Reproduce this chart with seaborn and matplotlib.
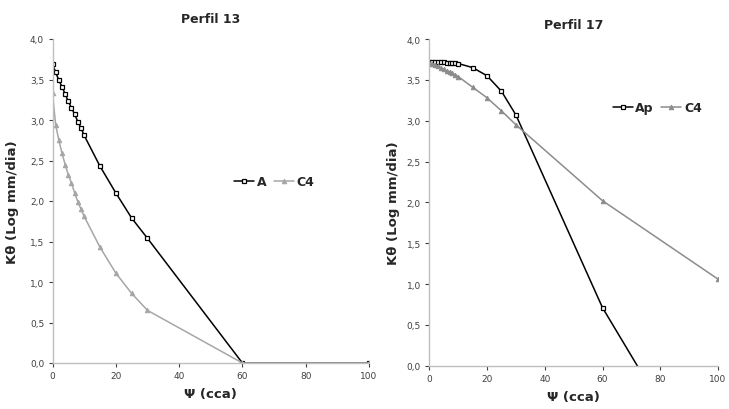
import numpy as np
import pandas as pd
import seaborn as sns
import matplotlib.pyplot as plt
from matplotlib.ticker import FuncFormatter

# Perfil 13
p13_x = [0, 1, 2, 3, 4, 5, 6, 7, 8, 9, 10, 15, 20, 25, 30, 60, 100]
p13_a = [3.69, 3.59, 3.49, 3.41, 3.32, 3.23, 3.15, 3.07, 2.98, 2.90, 2.81, 2.43, 2.10, 1.79, 1.54, 0.0, 0.0]
p13_c4 = [3.33, 2.94, 2.75, 2.59, 2.45, 2.32, 2.22, 2.10, 1.99, 1.90, 1.81, 1.43, 1.11, 0.86, 0.65, 0.0, 0.0]

# Perfil 17
p17_x = [0, 1, 2, 3, 4, 5, 6, 7, 8, 9, 10, 15, 20, 25, 30, 60, 100]
p17_ap = [3.72, 3.72, 3.72, 3.72, 3.72, 3.72, 3.71, 3.71, 3.71, 3.71, 3.70, 3.65, 3.55, 3.36, 3.07, 0.71, -1.65]
p17_c4 = [3.71, 3.70, 3.68, 3.67, 3.65, 3.63, 3.61, 3.60, 3.58, 3.56, 3.54, 3.41, 3.28, 3.12, 2.95, 2.02, 1.06]

sns.set_style("white")
plt.rcParams['font.family'] = ['DejaVu Sans']

fig = plt.figure(figsize=(7.29, 4.10), dpi=100)
ax1 = fig.add_axes([52.5 / 729, 1 - 364 / 410, 316.5 / 729, 324 / 410])
ax2 = fig.add_axes([429.3 / 729, 1 - 366.7 / 410, 288.7 / 729, 326.7 / 410])

comma = FuncFormatter(lambda v, p: f"{v:.1f}".replace(".", ","))


def draw(ax, x, s1, s2, name1, c4_color, title, legend_pos, title_pad):
    df = pd.DataFrame({"x": x, name1: s1, "C4": s2})
    sns.lineplot(data=df, x="x", y=name1, ax=ax, color="black", lw=1.1, marker="s",
                 markersize=3.2, markerfacecolor="white", markeredgecolor="black",
                 markeredgewidth=0.9, label=name1, sort=False)
    sns.lineplot(data=df, x="x", y="C4", ax=ax, color=c4_color, lw=1.1, marker="^",
                 markersize=3.2, markerfacecolor=c4_color, markeredgecolor=c4_color,
                 label="C4", sort=False)
    ax.set_xlim(0, 100)
    ax.set_ylim(0, 4.0)
    ax.set_xticks(range(0, 101, 20))
    ax.set_yticks(np.arange(0, 4.01, 0.5))
    ax.yaxis.set_major_formatter(comma)
    ax.tick_params(axis="both", labelsize=6.5, colors="#404040", length=3, direction="out",
                   left=True, bottom=True, pad=3)
    for t in ax.get_xticklines() + ax.get_yticklines():
        t.set_color("#bfbfbf")
    for sp in ["top", "right"]:
        ax.spines[sp].set_visible(False)
    for sp in ["left", "bottom"]:
        ax.spines[sp].set_color("#bfbfbf")
        ax.spines[sp].set_linewidth(1.0)
    ax.set_xlabel("Ψ (cca)", fontsize=9.5, fontweight="bold", labelpad=5)
    ax.set_ylabel("Kθ (Log mm/dia)", fontsize=9.5, fontweight="bold")
    ax.set_title(title, fontsize=9, fontweight="bold", pad=title_pad)
    ax.legend(loc="center", bbox_to_anchor=legend_pos, ncol=2, frameon=False,
              handlelength=1.6, handletextpad=0.2, columnspacing=0.6,
              prop={"weight": "bold", "size": 9})


draw(ax1, p13_x, p13_a, p13_c4, "A", "#a6a6a6", "Perfil 13", (0.70, 0.56), 12)
draw(ax2, p17_x, p17_ap, p17_c4, "Ap", "#8c8c8c", "Perfil 17", (0.79, 0.79), 8)
ax1.yaxis.set_label_coords(-0.105, 0.5)
ax2.yaxis.set_label_coords(-0.10, 0.5)

fig.savefig("out.png", dpi=100)
